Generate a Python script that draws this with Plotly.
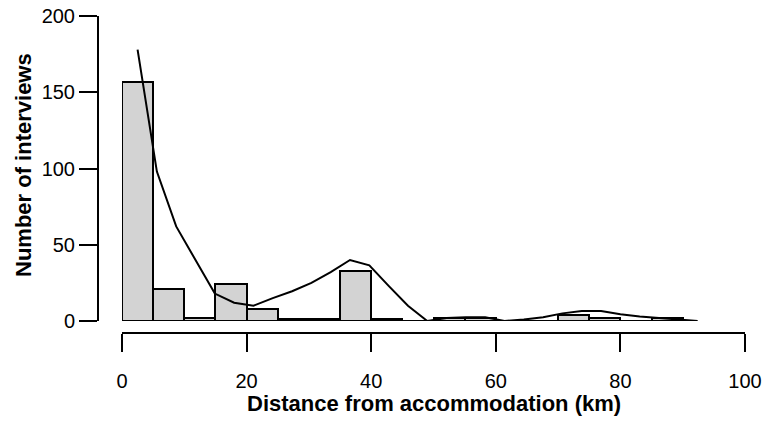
import plotly

# histogram bins (km) and counts
bin_left = [0, 5, 10, 15, 20, 25, 30, 35, 40, 45, 50, 55, 60, 65, 70, 75, 80, 85]
counts = [157, 21, 2, 24, 8, 1, 1, 33, 1, 0, 2, 2, 0, 0, 4, 2, 0, 2]
bin_width = 5

# smoothed frequency curve
curve_x = [2.5, 5.6, 8.7, 11.8, 14.9, 18.0, 21.1, 24.2, 27.3, 30.4, 33.5, 36.6, 39.7, 42.8, 45.9,
           49.0, 52.1, 55.2, 58.3, 61.4, 64.5, 67.6, 70.7, 73.8, 76.9, 80.0, 83.1, 86.2, 89.3, 92.4]
curve_y = [178, 98, 62, 40, 18, 12, 10, 15, 19.5, 25, 32, 40, 36.5, 23, 10,
           0, 2, 2.5, 2.5, 0, 1, 2.5, 5, 6.5, 6.5, 4.5, 3, 2, 0.8, 0]

x_ticks = [0, 20, 40, 60, 80, 100]
y_ticks = [0, 50, 100, 150, 200]

font_family = 'Liberation Sans, Arial, sans-serif'

bars = plotly.graph_objs.Bar(
    x=[b + bin_width / 2 for b in bin_left], y=counts, width=bin_width,
    marker={'color': '#d3d3d3', 'line': {'color': 'black', 'width': 2}},
    hoverinfo='x+y', showlegend=False)
line = plotly.graph_objs.Scatter(
    x=curve_x, y=curve_y, mode='lines', line={'color': 'black', 'width': 2}, showlegend=False)

layout = plotly.graph_objs.Layout(
    width=766, height=441,
    margin={'l': 98, 'r': 21, 't': 16, 'b': 108},
    paper_bgcolor='white', plot_bgcolor='white',
    bargap=0,
    font={'family': font_family, 'size': 20, 'color': 'black'},
    xaxis=dict(range=[0, 100], domain=[24 / 647, 1], anchor='free', position=0,
               tickvals=x_ticks, ticks='outside', ticklen=18, tickwidth=2, tickcolor='black',
               showline=True, linecolor='black', linewidth=2, showgrid=False, zeroline=False,
               ticklabelstandoff=12, automargin=False),
    yaxis=dict(range=[0, 200], domain=[12 / 317, 1], anchor='free', position=0,
               tickvals=y_ticks, ticks='outside', ticklen=18, tickwidth=2, tickcolor='black',
               showline=True, linecolor='black', linewidth=2, showgrid=False, zeroline=False,
               automargin=False),
    annotations=[
        dict(text='<b>Number of interviews</b>', xref='paper', yref='paper',
             x=(23 - 98) / 647, y=(333 - 165) / 317, xanchor='center', yanchor='middle',
             textangle=-90, showarrow=False, font={'size': 22}),
        dict(text='<b>Distance from accommodation (km)</b>', xref='paper', yref='paper',
             x=(434 - 98) / 647, y=(333 - 403) / 317, xanchor='center', yanchor='middle',
             showarrow=False, font={'size': 22}),
    ],
)

fig = plotly.graph_objs.Figure(data=[bars, line], layout=layout)
# page body margin would shift the fixed-size chart
fig.write_html("out.html", config={'displayModeBar': False},
               post_script="document.body.style.margin = '0px';")
